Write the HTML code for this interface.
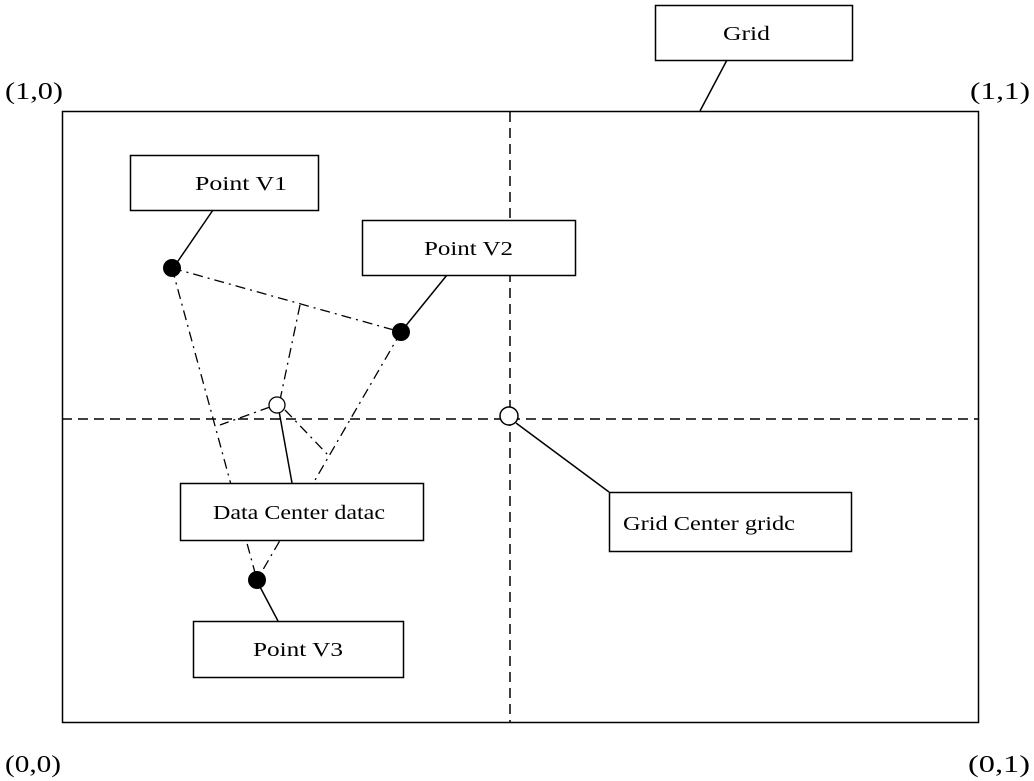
<!DOCTYPE html>
<html><head><style>body{margin:0;background:#fff}svg{display:block}text{font-family:"Liberation Serif",serif;fill:#000}</style></head><body>
<svg width="1034" height="781" viewBox="0 0 1034 781">
<rect x="62.5" y="111.5" width="916" height="611" fill="none" stroke="#000" stroke-width="1.5"/>
<g stroke="#000" stroke-width="1.5" stroke-dasharray="10,6" fill="none">
<line x1="510" y1="112" x2="510" y2="722"/>
<line x1="62" y1="419" x2="978" y2="419"/>
</g>
<g stroke="#000" stroke-width="1.3" stroke-dasharray="10,5,2,5" fill="none">
<line x1="172" y1="268" x2="401" y2="332"/>
<line x1="172" y1="268" x2="257" y2="580"/>
<line x1="401" y1="332" x2="257" y2="580"/>
<polyline points="300,305 280,400"/>
<polyline points="270,407 220,425"/>
<polyline points="285,410 328,455"/>
</g>
<g stroke="#000" stroke-width="1.5" fill="none">
<line x1="727" y1="60" x2="700" y2="111"/>
<line x1="213" y1="210" x2="176" y2="264"/>
<line x1="447" y1="275" x2="404" y2="328"/>
<line x1="292" y1="483" x2="279" y2="411"/>
<line x1="516" y1="423" x2="609" y2="492"/>
<line x1="278" y1="621" x2="259" y2="585"/>
</g>
<g fill="#000"><circle cx="172" cy="268" r="9"/><circle cx="401" cy="332" r="9"/><circle cx="257" cy="580" r="9"/></g>
<circle cx="277" cy="405" r="8" fill="#fff" stroke="#000" stroke-width="1.3"/>
<circle cx="509" cy="416" r="9" fill="#fff" stroke="#000" stroke-width="1.5"/>
<g fill="#fff" stroke="#000" stroke-width="1.5">
<rect x="655.5" y="5.5" width="197" height="55"/>
<rect x="130.5" y="155.5" width="188" height="55"/>
<rect x="362.5" y="220.5" width="213" height="55"/>
<rect x="180.5" y="483.5" width="243" height="57"/>
<rect x="609.5" y="492.5" width="242" height="59"/>
<rect x="193.5" y="621.5" width="210" height="56"/>
</g>
<g font-size="20" lengthAdjust="spacingAndGlyphs">
<text x="723" y="40" textLength="47" lengthAdjust="spacingAndGlyphs">Grid</text>
<text x="195" y="190" textLength="92" lengthAdjust="spacingAndGlyphs">Point V1</text>
<text x="424" y="255" textLength="89" lengthAdjust="spacingAndGlyphs">Point V2</text>
<text x="213" y="519" textLength="172" lengthAdjust="spacingAndGlyphs">Data Center datac</text>
<text x="623" y="530" textLength="172" lengthAdjust="spacingAndGlyphs">Grid Center gridc</text>
<text x="253" y="656" textLength="90" lengthAdjust="spacingAndGlyphs">Point V3</text>
</g>
<g font-size="24">
<text x="5" y="99" textLength="58" lengthAdjust="spacingAndGlyphs">(1,0)</text>
<text x="970" y="99" textLength="60" lengthAdjust="spacingAndGlyphs">(1,1)</text>
<text x="5" y="772" textLength="56" lengthAdjust="spacingAndGlyphs">(0,0)</text>
<text x="968" y="772" textLength="62" lengthAdjust="spacingAndGlyphs">(0,1)</text>
</g>
</svg>
</body></html>
